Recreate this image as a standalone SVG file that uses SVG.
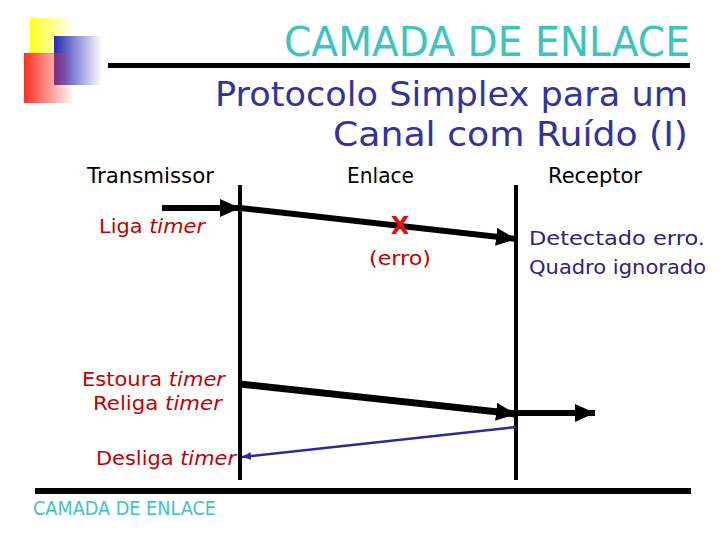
<svg xmlns="http://www.w3.org/2000/svg" width="720" height="540" viewBox="0 0 720 540">
<defs>
<linearGradient id="gy" x1="0" y1="0" x2="1" y2="0"><stop offset="0" stop-color="#ffff20"/><stop offset="1" stop-color="#ffff20" stop-opacity="0"/></linearGradient>
<linearGradient id="gb" x1="0" y1="0" x2="1" y2="0"><stop offset="0" stop-color="#2a2ab8"/><stop offset="1" stop-color="#2a2ab8" stop-opacity="0"/></linearGradient>
<linearGradient id="gr" x1="0" y1="0" x2="1" y2="0"><stop offset="0" stop-color="#ff3020"/><stop offset="1" stop-color="#ff3020" stop-opacity="0.05"/></linearGradient>
<marker id="ah" markerUnits="userSpaceOnUse" markerWidth="22" markerHeight="20" refX="20" refY="9" orient="auto"><path d="M0,0 L20,9 L0,18 Z" fill="#000"/></marker>
<marker id="ab" markerUnits="userSpaceOnUse" markerWidth="10" markerHeight="8" refX="9" refY="4" orient="auto"><path d="M0,0 L9,4 L0,8 Z" fill="#2a2a9a"/></marker>
<style>
text{font-family:"DejaVu Sans","Liberation Sans",sans-serif}
.hd{font-size:21px;fill:#000}
.red{fill:#c00000;font-size:20px}
.it{font-style:italic}
.rc{fill:#302080;font-size:20px}
.thick{stroke:#000;fill:none}
</style>
</defs>
<g id="logo">
<rect x="30" y="18" width="44" height="36" fill="url(#gy)"/>
<rect x="54" y="36" width="48" height="49" fill="url(#gb)"/>
<rect x="24" y="53" width="48" height="50" fill="url(#gr)"/>
</g>
<g id="title">
<text x="690" y="56" text-anchor="end" font-size="41" fill="#3ec4bf" textLength="406" lengthAdjust="spacingAndGlyphs">CAMADA DE ENLACE</text>
<rect x="108" y="63" width="582" height="5" fill="#000"/>
<text x="688" y="106" text-anchor="end" font-size="33" fill="#3333a0" textLength="473" lengthAdjust="spacingAndGlyphs">Protocolo Simplex para um</text>
<text x="688" y="146" text-anchor="end" font-size="33" fill="#3333a0" textLength="355" lengthAdjust="spacingAndGlyphs">Canal com Ruído (I)</text>
</g>
<g id="headers">
<text class="hd" x="87" y="183" textLength="127" lengthAdjust="spacingAndGlyphs">Transmissor</text>
<text class="hd" x="347" y="183" textLength="67" lengthAdjust="spacingAndGlyphs">Enlace</text>
<text class="hd" x="548" y="183" textLength="94" lengthAdjust="spacingAndGlyphs">Receptor</text>
</g>
<g id="lifelines">
<line x1="240" y1="185" x2="240" y2="480" stroke="#000" stroke-width="4"/>
<line x1="516" y1="185" x2="516" y2="480" stroke="#000" stroke-width="4"/>
</g>
<g id="connectors">
<line class="thick" x1="162" y1="208" x2="240" y2="208" stroke-width="6" marker-end="url(#ah)"/>
<line class="thick" x1="240" y1="208" x2="516" y2="239" stroke-width="6" marker-end="url(#ah)"/>
<line class="thick" x1="240" y1="384" x2="516" y2="414" stroke-width="7" marker-end="url(#ah)"/>
<line class="thick" x1="516" y1="413" x2="595" y2="413" stroke-width="6" marker-end="url(#ah)"/>
<line x1="516" y1="427" x2="242" y2="457" stroke="#2a2a9a" stroke-width="2.5" marker-end="url(#ab)"/>
</g>
<g id="labels">
<text class="red" x="99" y="233" textLength="106" lengthAdjust="spacingAndGlyphs">Liga <tspan class="it">timer</tspan></text>
<text x="400" y="234" text-anchor="middle" font-size="24" font-weight="bold" fill="#e01010" font-family="Liberation Sans, sans-serif">X</text>
<text class="red" x="400" y="265" text-anchor="middle" textLength="62" lengthAdjust="spacingAndGlyphs">(erro)</text>
<text class="rc" x="529" y="245" textLength="176" lengthAdjust="spacingAndGlyphs">Detectado erro.</text>
<text class="rc" x="529" y="274" textLength="177" lengthAdjust="spacingAndGlyphs">Quadro ignorado</text>
<text class="red" x="82" y="386" textLength="143" lengthAdjust="spacingAndGlyphs">Estoura <tspan class="it">timer</tspan></text>
<text class="red" x="93" y="410" textLength="129" lengthAdjust="spacingAndGlyphs">Religa <tspan class="it">timer</tspan></text>
<text class="red" x="96" y="465" textLength="140" lengthAdjust="spacingAndGlyphs">Desliga <tspan class="it">timer</tspan></text>
</g>
<g id="footer">
<rect x="35" y="488" width="656" height="6" fill="#000"/>
<text x="33" y="515" font-size="19" fill="#3ec4bf" textLength="183" lengthAdjust="spacingAndGlyphs">CAMADA DE ENLACE</text>
</g>
</svg>
